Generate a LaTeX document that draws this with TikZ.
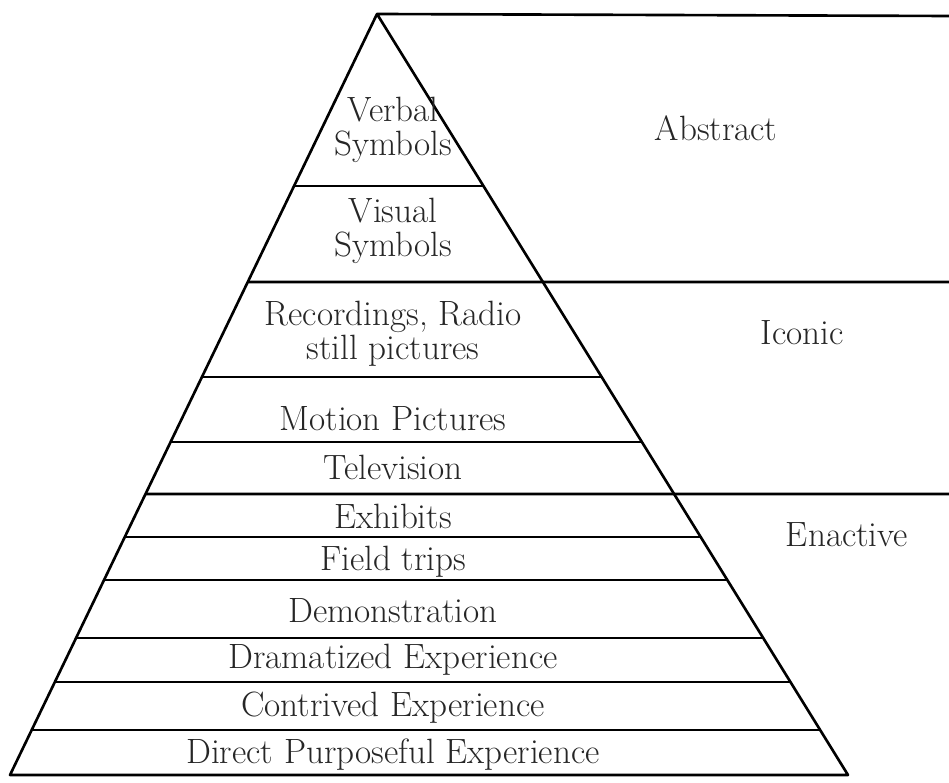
\documentclass[tikz,border=0pt]{standalone}
\usetikzlibrary{calc}
\begin{document}
\begin{tikzpicture}[x=0.02cm,y=-0.02cm,
    rule/.style={line width=1.5pt, line join=round},
    layer/.style={font=\fontsize{20}{19.5}\selectfont, align=center, text=black!85},
    stage/.style={font=\fontsize{20}{19.5}\selectfont, text=black!85}]
  \useasboundingbox (0,0) rectangle (949,783);
  \coordinate (apex) at (377,14);
  \coordinate (bl) at (10,775);
  \coordinate (br) at (848,775);
  % outline and top frame line
  \draw [rule] (949,16) -- (apex) -- (bl) -- (br) -- (apex);
  % dividers inside the pyramid
  \foreach \y in {186,377,442,537,580,638,682,730}{
    \draw [rule] ($(apex)!{(\y-14)/761}!(bl)$) -- ($(apex)!{(\y-14)/761}!(br)$);
  }
  % dividers running out to the right edge
  \foreach \y in {282,494}{
    \draw [rule] ($(apex)!{(\y-14)/761}!(bl)$) -- (949,\y);
  }
  \node [layer] (verbal) at (393,130) {Verbal\\Symbols};
  \node [layer] (visual) at (393,231) {Visual\\Symbols};
  \node [layer] (record) at (393,334) {Recordings, Radio\\still pictures};
  \node [layer] (motion) at (393,419) {Motion Pictures};
  \node [layer] (tv) at (393,467) {Television};
  \node [layer] (exhib) at (393,516) {Exhibits};
  \node [layer] (field) at (393,562) {Field trips};
  \node [layer] (demo) at (393,611) {Demonstration};
  \node [layer] (drama) at (393,660) {Dramatized Experience};
  \node [layer] (contr) at (393,708) {Contrived Experience};
  \node [layer] (direct) at (393,755) {Direct Purposeful Experience};
  \node [stage] (abstract) at (716,128) {Abstract};
  \node [stage] (iconic) at (802,333) {Iconic};
  \node [stage] (enactive) at (847,535) {Enactive};
\end{tikzpicture}
\end{document}
